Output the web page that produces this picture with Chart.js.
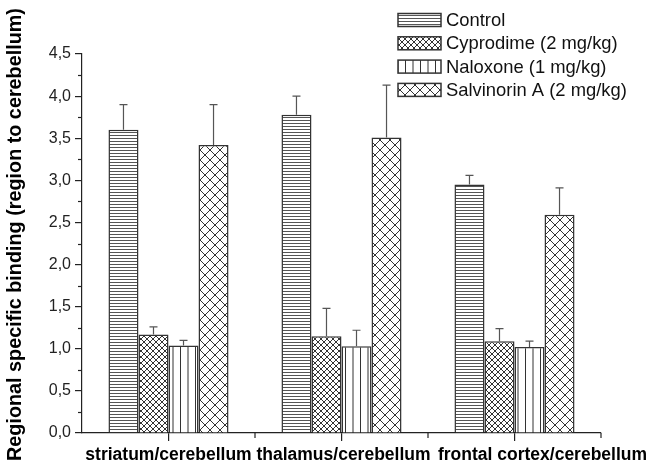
<!DOCTYPE html>
<html>
<head>
<meta charset="utf-8">
<script src="https://cdn.jsdelivr.net/npm/chart.js@4.4.1/dist/chart.umd.min.js"></script>
<style>
    html, body { margin: 0; padding: 0; background: #fff; }
    #myChart { display: block; }
</style>
</head>
<body>
<canvas id="myChart" width="657" height="467"></canvas>
<script>
// regions on the x axis
const regions = ["striatum/cerebellum", "thalamus/cerebellum", "frontal cortex/cerebellum"];
const treatments = ["Control", "Cyprodime (2 mg/kg)", "Naloxone (1 mg/kg)", "Salvinorin A (2 mg/kg)"];

// mean values per region
const controlValues = [3.60, 3.78, 2.95];
const cyprodimeValues = [1.17, 1.15, 1.09];
const naloxoneValues = [1.04, 1.03, 1.02];
const salvinorinValues = [3.42, 3.51, 2.59];

// upward error (SD)
const controlErr = [0.30, 0.22, 0.11];
const cyprodimeErr = [0.09, 0.33, 0.15];
const naloxoneErr = [0.06, 0.19, 0.07];
const salvinorinErr = [0.48, 0.62, 0.32];

const yMin = 0;
const yMax = 4.5;
const yStep = 0.5;

const yTitle = "Regional specific binding (region to cerebellum)";

// the last label sits a bit right of its tick in the original
const labelShift = [0, 2, 28];

Chart.defaults.font.family = '"Liberation Sans", Arial, sans-serif';
Chart.defaults.color = "#222";

// hatch patterns
function makePattern(w, h, drawFn) {
    const c = document.createElement("canvas");
    c.width = w;
    c.height = h;
    const g = c.getContext("2d");
    g.fillStyle = "#fff";
    g.fillRect(0, 0, w, h);
    g.strokeStyle = "#555";
    g.lineWidth = 1;
    drawFn(g, w, h);
    return document.getElementById("myChart").getContext("2d").createPattern(c, "repeat");
}

const horizLines = makePattern(6, 3, function (g, w) {
    g.beginPath();
    g.moveTo(0, 0.5);
    g.lineTo(w, 0.5);
    g.stroke();
});

function crossHatch(p) {
    return makePattern(p, p, function (g, w, h) {
        g.strokeStyle = "#333";
        g.beginPath();
        g.moveTo(0, 0);
        g.lineTo(w, h);
        g.moveTo(w, 0);
        g.lineTo(0, h);
        g.stroke();
    });
}

const fineCross = crossHatch(6);
const coarseCross = crossHatch(10);

const vertLines = makePattern(15, 4, function (g, w, h) {
    g.strokeStyle = "#333";
    g.beginPath();
    g.moveTo(0.5, 0);
    g.lineTo(0.5, h);
    g.moveTo(8, 0);
    g.lineTo(8, h);
    g.stroke();
});

const patterns = [horizLines, fineCross, vertLines, coarseCross];
const allValues = [controlValues, cyprodimeValues, naloxoneValues, salvinorinValues];
const allErrors = [controlErr, cyprodimeErr, naloxoneErr, salvinorinErr];

const datasets = treatments.map(function (name, i) {
    return {
        label: name,
        data: allValues[i],
        errors: allErrors[i],
        backgroundColor: patterns[i],
        borderColor: "#333",
        borderWidth: 1.5,
        borderSkipped: "bottom",
        barPercentage: 1.0,
        categoryPercentage: 0.694
    };
});

const extrasPlugin = {
    id: "extras",
    afterDatasetsDraw(chart) {
        const ctx = chart.ctx;
        const yScale = chart.scales.y;
        ctx.save();
        ctx.strokeStyle = "#555";
        ctx.lineWidth = 1.2;
        chart.data.datasets.forEach(function (ds, di) {
            const meta = chart.getDatasetMeta(di);
            meta.data.forEach(function (bar, i) {
                const top = yScale.getPixelForValue(ds.data[i] + ds.errors[i]);
                ctx.beginPath();
                ctx.moveTo(bar.x, bar.y);
                ctx.lineTo(bar.x, top);
                ctx.moveTo(bar.x - 4, top);
                ctx.lineTo(bar.x + 4, top);
                ctx.stroke();
            });
        });
        ctx.restore();
    },
    afterDraw(chart) {
        const ctx = chart.ctx;
        const x = chart.scales.x;
        const y = chart.scales.y;
        const area = chart.chartArea;
        ctx.save();
        ctx.strokeStyle = "#222";
        ctx.lineWidth = 1.2;

        // minor y ticks
        for (let v = yMin + yStep / 2; v < yMax; v += yStep) {
            const py = Math.round(y.getPixelForValue(v)) + 0.5;
            ctx.beginPath();
            ctx.moveTo(area.left, py);
            ctx.lineTo(area.left - 4, py);
            ctx.stroke();
        }

        // minor x ticks at category boundaries
        const bounds = [];
        for (let i = 0; i < regions.length - 1; i++) {
            bounds.push((x.getPixelForValue(i) + x.getPixelForValue(i + 1)) / 2);
        }
        bounds.push(area.right);
        bounds.forEach(function (px) {
            ctx.beginPath();
            ctx.moveTo(px, area.bottom);
            ctx.lineTo(px, area.bottom + 5);
            ctx.stroke();
        });

        // x labels
        ctx.fillStyle = "#000";
        ctx.font = 'bold 17.5px "Liberation Sans", Arial, sans-serif';
        ctx.textAlign = "center";
        ctx.textBaseline = "alphabetic";
        regions.forEach(function (name, i) {
            ctx.fillText(name, x.getPixelForValue(i) + labelShift[i], area.bottom + 27);
        });

        // y title
        ctx.save();
        ctx.translate(21, (area.top + area.bottom) / 2 - 9);
        ctx.rotate(-Math.PI / 2);
        ctx.font = 'bold 19.8px "Liberation Sans", Arial, sans-serif';
        ctx.textAlign = "center";
        ctx.textBaseline = "alphabetic";
        ctx.fillText(yTitle, 0, 0);
        ctx.restore();

        // legend
        const lx = 398;
        const boxW = 43;
        const boxH = 13;
        ctx.font = '18.4px "Liberation Sans", Arial, sans-serif';
        ctx.textBaseline = "middle";
        ctx.textAlign = "left";
        chart.data.datasets.forEach(function (ds, i) {
            const cy = 20 + i * 23.3;
            ctx.fillStyle = ds.backgroundColor;
            ctx.fillRect(lx, cy - boxH / 2, boxW, boxH);
            ctx.strokeStyle = "#333";
            ctx.lineWidth = 1.5;
            ctx.strokeRect(lx, cy - boxH / 2, boxW, boxH);
            ctx.fillStyle = "#111";
            ctx.fillText(ds.label, lx + boxW + 5, cy + 1);
        });
        ctx.restore();
    }
};

const ctx = document.getElementById("myChart").getContext("2d");

const bindingChart = new Chart(ctx, {
    type: "bar",
    data: {
        labels: regions,
        datasets: datasets
    },
    options: {
        responsive: false,
        animation: false,
        layout: {
            padding: { top: 54, right: 56, left: 0, bottom: 0 }
        },
        plugins: {
            legend: { display: false },
            tooltip: { enabled: false }
        },
        scales: {
            x: {
                offset: true,
                grid: {
                    offset: false,
                    drawOnChartArea: false,
                    drawTicks: true,
                    tickLength: 8,
                    color: "#222",
                    lineWidth: 1.2
                },
                border: { display: true, color: "#222", width: 1.2 },
                ticks: {
                    display: false,
                    autoSkip: false,
                    maxRotation: 0
                },
                afterFit(scale) {
                    scale.height = 34;
                }
            },
            y: {
                min: yMin,
                max: yMax,
                grid: {
                    drawOnChartArea: false,
                    drawTicks: true,
                    tickLength: 7,
                    color: "#222",
                    lineWidth: 1.2
                },
                border: { display: true, color: "#222", width: 1.2 },
                ticks: {
                    stepSize: yStep,
                    padding: 4,
                    color: "#222",
                    font: { size: 16 },
                    callback: function (value) {
                        return value.toFixed(1).replace(".", ",");
                    }
                },
                afterFit(scale) {
                    scale.width = 82;
                }
            }
        }
    },
    plugins: [extrasPlugin]
});
</script>
</body>
</html>
